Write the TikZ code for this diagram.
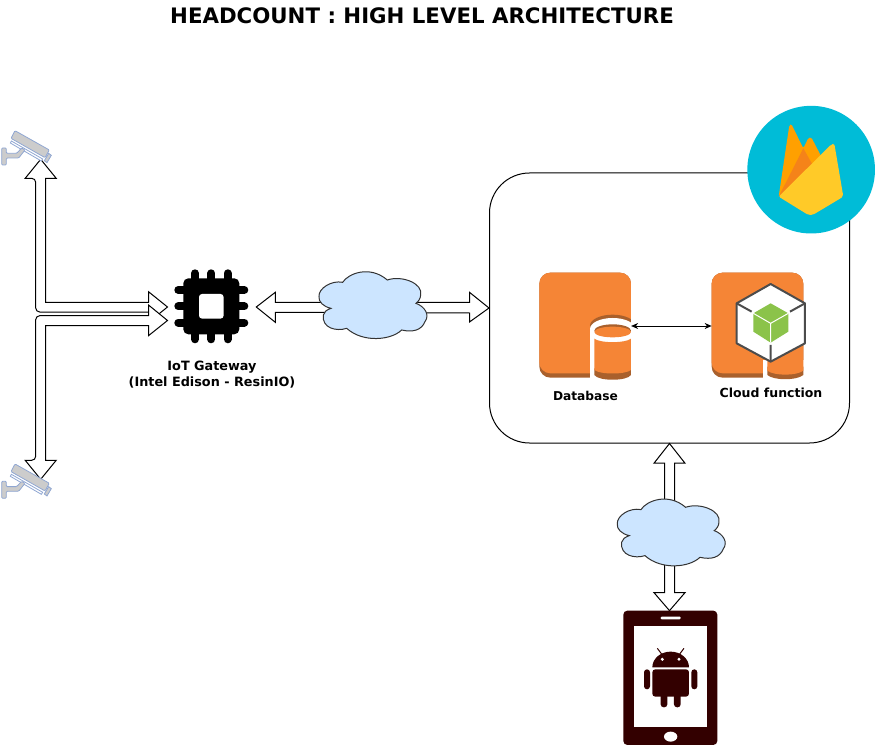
\documentclass[tikz,border=0pt]{standalone}
\usepackage{fontspec}
\setmainfont{DejaVu Sans}
\usetikzlibrary{arrows.meta,calc}

\definecolor{cloudblue}{HTML}{CCE5FF}
\definecolor{awsorange}{HTML}{F58536}
\definecolor{awsdark}{HTML}{A9602C}
\definecolor{fireblue}{HTML}{00BCD7}
\definecolor{fireamber}{HTML}{FFA000}
\definecolor{firedeep}{HTML}{F58319}
\definecolor{fireyellow}{HTML}{FFCA28}
\definecolor{campale}{HTML}{8FA6D2}
\definecolor{tabletdark}{HTML}{330000}
\definecolor{cubegreen}{HTML}{8BC34A}

\tikzset{
	zoomgrid/.style={x=0.3333pt,y=-0.3333pt},
	blockarrow/.style={draw=black,fill=white,line width=1pt,line join=miter},
	icon/.style={minimum width=#1,inner sep=0pt,outer sep=0pt},
	lbl/.style={font=\fontsize{#1}{16}\selectfont\bfseries,align=center,inner sep=0pt},
	cloudshape/.pic={
		\begin{scope}[zoomgrid]
		\draw[fill=cloudblue,draw=black!80,line width=1pt] (507,140)
			.. controls (505,115) and (545,90) .. (578,97)
			.. controls (595,70) and (660,45) .. (712,90)
			.. controls (755,75) and (820,100) .. (812,135)
			.. controls (812,145) and (805,155) .. (798,160)
			.. controls (825,170) and (840,195) .. (825,215)
			.. controls (815,240) and (790,248) .. (755,240)
			.. controls (725,270) and (640,280) .. (590,235)
			.. controls (560,245) and (515,235) .. (520,195)
			.. controls (522,185) and (530,180) .. (543,175)
			.. controls (520,170) and (505,155) .. (507,140) -- cycle;
		\end{scope}
	},
	camicon/.pic={
		\begin{scope}[zoomgrid]
		\draw[fill=black!20,draw=campale,line width=0.8pt,rounded corners=1pt] (45,62) -- (148,120) -- (135,143) -- (33,85) -- cycle;
		\draw[fill=white,draw=campale,line width=0.8pt] (34,93) -- (128,147) -- (124,153) -- (31,99) -- cycle;
		\draw[fill=black!20,draw=campale,line width=0.8pt] (146,130) -- (154,136) -- (141,158) -- (133,152) -- cycle;
		\draw[fill=black!20,draw=campale,line width=0.8pt,rounded corners=1pt] (5,114) -- (19,114) -- (19,130) -- (50,130) -- (65,114) -- (75,120) -- (56,144) -- (19,144) -- (19,165) -- (5,165) -- cycle;
		\end{scope}
	},
	chipicon/.pic={
		\foreach \p in {-16.3,0,16.3} {
			\draw[line width=8pt,line cap=round] (\p,-33) -- (\p,33);
			\draw[line width=8pt,line cap=round] (-33,\p) -- (33,\p);
		}
		\fill[rounded corners=5pt] (-28,-28) rectangle (28,28);
		\fill[white,rounded corners=3pt] (-12.3,-12.3) rectangle (12.3,12.3);
	},
	awsbase/.pic={
		\fill[awsdark,rounded corners=11pt] (#1,38) rectangle ++(275,315);
		\fill[awsorange,rounded corners=11pt] (#1,38) rectangle ++(275,302);
	},
	dbicon/.pic={
		\begin{scope}[zoomgrid]
		\pic {awsbase=28};
		\begin{scope}
			\clip (28,38) rectangle (303,360);
			\fill[awsdark] (248,197) ellipse (68 and 33);
			\fill[white] (248,207) ellipse (68 and 33);
			\fill[white] (180,205) rectangle (303,360);
		\end{scope}
		\fill[awsdark] (248,212) ellipse (55 and 19);
		\fill[awsorange] (248,216) ellipse (55 and 16);
		\fill[awsdark] (193,325) rectangle (303,345) (193,345) .. controls (205,364) and (291,364) .. (303,345) -- cycle;
		\fill[awsorange] (193,236) .. controls (210,250) and (286,250) .. (303,236) -- (303,330) .. controls (286,344) and (210,344) .. (193,330) -- cycle;
		\end{scope}
	},
	fnicon/.pic={
		\begin{scope}[zoomgrid]
		\pic {awsbase=545};
		\fill[white] (700,300) rectangle (825,360);
		\fill[awsdark] (712,320) -- (820,320) -- (820,345) .. controls (800,362) and (732,362) .. (712,345) -- cycle;
		\fill[awsorange] (712,300) -- (820,300) -- (820,332) .. controls (800,348) and (732,348) .. (712,332) -- cycle;
		\draw[fill=white,draw=black!70,line width=2pt,line join=round] (722,72) -- (825,130) -- (825,250) -- (722,305) -- (620,250) -- (620,130) -- cycle;
		\draw[black!70,line width=2pt] (620,130) -- (665,155) (825,130) -- (780,155) (722,305) -- (722,255);
		\fill[cubegreen] (722,130) -- (775,160) -- (775,215) -- (722,248) -- (670,215) -- (670,160) -- cycle;
		\draw[white,line width=1pt] (670,160) -- (722,190) -- (775,160) (722,190) -- (722,248);
		\end{scope}
	},
	flameicon/.pic={
		\begin{scope}[zoomgrid]
		\fill[fireblue] (213.5,209) circle (191.5);
		\fill[fireamber,rounded corners=1.5pt] (116,290) -- (148,76) -- (154,72) -- (190,145) -- (205,114) -- (214,112) -- (245,172) -- cycle;
		\fill[firedeep] (116,290) -- (190,145) -- (218,195) -- cycle;
		\fill[fireyellow,rounded corners=2pt] (116,290) -- (274,133) -- (283,131) -- (310,290) -- (218,345) -- (205,345) -- cycle;
		\end{scope}
	},
	droidicon/.pic={
		\begin{scope}[zoomgrid]
		\fill[tabletdark,rounded corners=4pt] (70,512) rectangle (352,915);
		\fill[white] (102,557) rectangle (322,862);
		\fill[white,rounded corners=1pt] (182,530) rectangle (242,538);
		\fill[white] (212,890) ellipse (20 and 15);
		\fill[tabletdark] (157,682) arc[start angle=180,end angle=360,x radius=55,y radius=47] -- cycle;
		\draw[tabletdark,line width=1pt] (172,625) -- (187,645) (252,625) -- (237,645);
		\fill[white] (187,658) circle (5) (237,658) circle (5);
		\fill[tabletdark,rounded corners=3pt] (157,688) rectangle (267,770);
		\fill[tabletdark,rounded corners=3pt] (132,688) rectangle (150,748) (274,688) rectangle (292,748);
		\fill[tabletdark,rounded corners=3pt] (182,760) rectangle (202,802) (222,760) rectangle (242,802);
		\end{scope}
	}
}

\begin{document}
\begin{tikzpicture}[x=1pt,y=-1pt]
	\useasboundingbox (0,0) rectangle (876,746);
	
	\node[font=\fontsize{21.3}{24}\selectfont\bfseries,inner sep=0pt] (title) at (422,16) {HEADCOUNT : HIGH LEVEL ARCHITECTURE};
	
	\node[draw=black,line width=1pt,rounded corners=40pt,minimum width=360pt,minimum height=270pt,inner sep=0pt] (backend) at (669.5,308) {};
	\node[icon=91.7pt,minimum height=106.3pt] (dbnode) at (585.3,326) {};
	\node[icon=91.7pt,minimum height=106.3pt] (fnnode) at (757.5,326) {};
	\node[icon=90pt,minimum height=74pt] (chip) at (211.3,307) {};
	\node[icon=94pt,minimum height=134.3pt] (tablet) at (669.5,677.8) {};
	
	\coordinate (camtopPort) at (40.7,159.3);
	\coordinate (cambotPort) at (40.7,479.3);
	\coordinate (chipUp) at (167.5,307);
	\coordinate (chipDown) at (167.5,320.5);
	
	% block arrows, the clouds lie over them
	\draw[blockarrow] (chip.east) -- ++(19,-14.7) -- ++(0,10) -- ($(backend.west)+(-19.5,-5.7)$) -- ++(0,-10) -- (backend.west) -- ++(-19.5,14) -- ++(0,-9) -- ($(chip.east)+(19,5.3)$) -- ++(0,10) -- cycle;
	\draw[blockarrow] (backend.south) -- ++(15.5,19.7) -- ++(-10.5,0) -- ($(tablet.north)+(5,-18)$) -- ++(10.5,0) -- (tablet.north) -- ++(-15.5,-18) -- ++(10.5,0) -- ($(backend.south)+(-5,19.7)$) -- ++(-10.5,0) -- cycle;
	
	\draw[blockarrow] (camtopPort) -- ++(15.5,19) -- ++(-10.5,0) -- (45.7,302.3) -- (148.5,302.3) -- (148.5,291.7) -- (chipUp) -- (148.5,322.3) -- (148.5,312) [rounded corners=4pt] -- (35.7,312) -- (35.7,178.3) [sharp corners] -- (25.2,178.3) -- cycle;
	\draw[blockarrow] (cambotPort) -- ++(15.5,-19) -- ++(-10.5,0) -- (45.7,325.7) -- (148.5,325.7) -- (148.5,335.7) -- (chipDown) -- (148.5,305) -- (148.5,315.7) [rounded corners=4pt] -- (35.7,315.7) -- (35.7,460.3) [sharp corners] -- (25.2,460.3) -- cycle;
	
	\pic at (150,250) {cloudshape};
	\pic at (448.3,477.3) {cloudshape};
	
	\pic at (0,110) {camicon};
	\pic at (0,443.3) {camicon};
	\pic at (211.3,306.3) {chipicon};
	\pic at (530,260) {dbicon};
	\pic at (530,260) {fnicon};
	\pic at (740,100) {flameicon};
	\pic at (600,440) {droidicon};
	
	\draw[{Stealth[length=7pt,width=6pt]}-{Stealth[length=7pt,width=6pt]},line width=0.8pt] (dbnode.east) -- (fnnode.west);
	
	\node[lbl=12.8] (gwlabel) at (212,375) {IoT Gateway\\(Intel Edison - ResinIO)};
	\node[lbl=12.2] (dblabel) at (585.5,396) {Database};
	\node[lbl=12.5] (fnlabel) at (771,393) {Cloud function};
	
\end{tikzpicture}
\end{document}
